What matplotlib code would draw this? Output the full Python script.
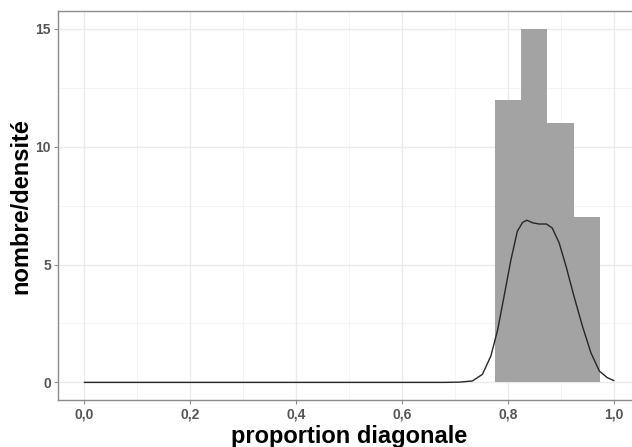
import matplotlib.pyplot as plt

plt.rcParams['font.family'] = ['Liberation Sans', 'DejaVu Sans']

# histogram (bin centres, counts)
bin_centres = [0.80, 0.85, 0.90, 0.95]
counts = [12, 15, 11, 7]
bin_width = 0.05

# density curve
dens_x = [0.0, 0.20, 0.40, 0.60, 0.68, 0.708, 0.733, 0.752, 0.768, 0.781, 0.793,
          0.806, 0.818, 0.828, 0.836, 0.847, 0.859, 0.873, 0.884, 0.897,
          0.910, 0.925, 0.941, 0.957, 0.973, 0.988, 1.0]
dens_y = [0.0, 0.0, 0.0, 0.0, 0.0, 0.01, 0.06, 0.34, 1.12, 2.25, 3.66,
          5.21, 6.41, 6.79, 6.88, 6.77, 6.72, 6.72, 6.55, 5.92,
          4.93, 3.66, 2.39, 1.26, 0.48, 0.20, 0.08]

x_ticks = [0.0, 0.2, 0.4, 0.6, 0.8, 1.0]
x_labels = ['0,0', '0,2', '0,4', '0,6', '0,8', '1,0']
y_ticks = [0, 5, 10, 15]

fig = plt.figure(figsize=(6.32, 4.47), dpi=100)
ax = fig.add_axes([0.0918, 0.105, 0.921, 0.870])

# grid like theme_bw
for v in [0.1, 0.3, 0.5, 0.7, 0.9]:
    ax.axvline(v, color='#f2f2f2', lw=0.6, zorder=0)
for v in [2.5, 7.5, 12.5]:
    ax.axhline(v, color='#f2f2f2', lw=0.6, zorder=0)
for v in x_ticks:
    ax.axvline(v, color='#ebebeb', lw=1.0, zorder=0)
for v in y_ticks:
    ax.axhline(v, color='#ebebeb', lw=1.0, zorder=0)

ax.bar(bin_centres, counts, width=bin_width, color='#a3a3a3', edgecolor='none', zorder=2)
ax.plot(dens_x, dens_y, color='#262626', lw=1.0, zorder=3)

ax.set_xlim(-0.05, 1.05)
ax.set_ylim(-0.75, 15.75)
ax.set_xticks(x_ticks)
ax.set_xticklabels(x_labels)
ax.set_yticks(y_ticks)

for s in ax.spines.values():
    s.set_color('#8c8c8c')
    s.set_linewidth(1.0)

ax.tick_params(length=3, width=0.8, color='#8c8c8c', labelcolor='#555555',
               labelsize=10, pad=2)
for lab in ax.get_xticklabels() + ax.get_yticklabels():
    lab.set_fontweight('bold')

ax.set_xlabel('proportion diagonale', fontsize=17, fontweight='bold', labelpad=3)
ax.set_ylabel('nombre/densité', fontsize=17, fontweight='bold', labelpad=2)

fig.savefig('out.png', dpi=100)
